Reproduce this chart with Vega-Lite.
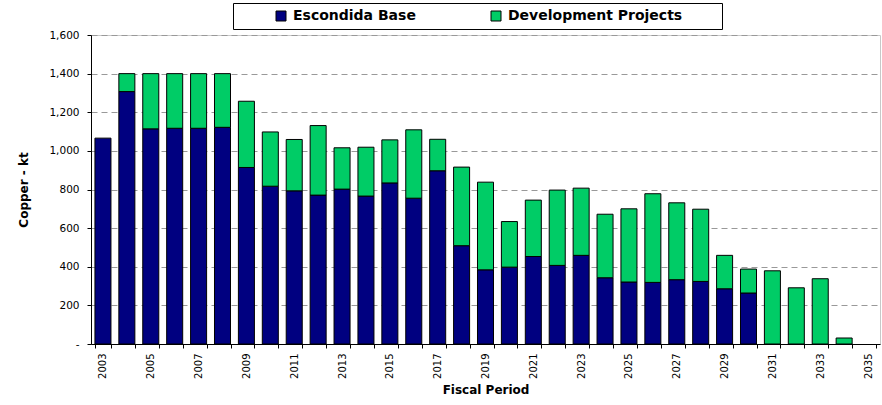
{
  "$schema": "https://vega.github.io/schema/vega-lite/v6.json",
  "width": 789,
  "height": 309,
  "autosize": {"type": "none"},
  "padding": {"left": 91, "top": 35, "right": 2, "bottom": 61},
  "background": "white",
  "config": {"view": {"stroke": "#c8c8c8"}, "font": "DejaVu Sans"},
  "data": {"values": [
    {"year": 2003, "series": "Escondida Base", "kt": 1066},
    {"year": 2004, "series": "Escondida Base", "kt": 1307},
    {"year": 2004, "series": "Development Projects", "kt": 93},
    {"year": 2005, "series": "Escondida Base", "kt": 1114},
    {"year": 2005, "series": "Development Projects", "kt": 286},
    {"year": 2006, "series": "Escondida Base", "kt": 1117},
    {"year": 2006, "series": "Development Projects", "kt": 283},
    {"year": 2007, "series": "Escondida Base", "kt": 1117},
    {"year": 2007, "series": "Development Projects", "kt": 283},
    {"year": 2008, "series": "Escondida Base", "kt": 1122},
    {"year": 2008, "series": "Development Projects", "kt": 278},
    {"year": 2009, "series": "Escondida Base", "kt": 914},
    {"year": 2009, "series": "Development Projects", "kt": 343},
    {"year": 2010, "series": "Escondida Base", "kt": 817},
    {"year": 2010, "series": "Development Projects", "kt": 281},
    {"year": 2011, "series": "Escondida Base", "kt": 793},
    {"year": 2011, "series": "Development Projects", "kt": 266},
    {"year": 2012, "series": "Escondida Base", "kt": 771},
    {"year": 2012, "series": "Development Projects", "kt": 360},
    {"year": 2013, "series": "Escondida Base", "kt": 802},
    {"year": 2013, "series": "Development Projects", "kt": 214},
    {"year": 2014, "series": "Escondida Base", "kt": 766},
    {"year": 2014, "series": "Development Projects", "kt": 253},
    {"year": 2015, "series": "Escondida Base", "kt": 834},
    {"year": 2015, "series": "Development Projects", "kt": 223},
    {"year": 2016, "series": "Escondida Base", "kt": 755},
    {"year": 2016, "series": "Development Projects", "kt": 354},
    {"year": 2017, "series": "Escondida Base", "kt": 897},
    {"year": 2017, "series": "Development Projects", "kt": 163},
    {"year": 2018, "series": "Escondida Base", "kt": 509},
    {"year": 2018, "series": "Development Projects", "kt": 407},
    {"year": 2019, "series": "Escondida Base", "kt": 384},
    {"year": 2019, "series": "Development Projects", "kt": 454},
    {"year": 2020, "series": "Escondida Base", "kt": 398},
    {"year": 2020, "series": "Development Projects", "kt": 236},
    {"year": 2021, "series": "Escondida Base", "kt": 453},
    {"year": 2021, "series": "Development Projects", "kt": 292},
    {"year": 2022, "series": "Escondida Base", "kt": 407},
    {"year": 2022, "series": "Development Projects", "kt": 390},
    {"year": 2023, "series": "Escondida Base", "kt": 459},
    {"year": 2023, "series": "Development Projects", "kt": 348},
    {"year": 2024, "series": "Escondida Base", "kt": 343},
    {"year": 2024, "series": "Development Projects", "kt": 329},
    {"year": 2025, "series": "Escondida Base", "kt": 321},
    {"year": 2025, "series": "Development Projects", "kt": 379},
    {"year": 2026, "series": "Escondida Base", "kt": 319},
    {"year": 2026, "series": "Development Projects", "kt": 459},
    {"year": 2027, "series": "Escondida Base", "kt": 333},
    {"year": 2027, "series": "Development Projects", "kt": 398},
    {"year": 2028, "series": "Escondida Base", "kt": 324},
    {"year": 2028, "series": "Development Projects", "kt": 374},
    {"year": 2029, "series": "Escondida Base", "kt": 286},
    {"year": 2029, "series": "Development Projects", "kt": 173},
    {"year": 2030, "series": "Escondida Base", "kt": 264},
    {"year": 2030, "series": "Development Projects", "kt": 124},
    {"year": 2031, "series": "Development Projects", "kt": 379},
    {"year": 2032, "series": "Development Projects", "kt": 291},
    {"year": 2033, "series": "Development Projects", "kt": 338},
    {"year": 2034, "series": "Development Projects", "kt": 31}
  ]},
  "mark": {"type": "bar", "stroke": "black", "strokeWidth": 1},
  "encoding": {
    "x": {
      "field": "year",
      "type": "ordinal",
      "scale": {
        "domain": [2003,2004,2005,2006,2007,2008,2009,2010,2011,2012,2013,2014,2015,2016,2017,2018,2019,2020,2021,2022,2023,2024,2025,2026,2027,2028,2029,2030,2031,2032,2033,2034,2035],
        "paddingInner": 0.33,
        "paddingOuter": 0.165
      },
      "axis": {
        "title": "Fiscal Period",
        "titleFont": "DejaVu Sans",
        "titleFontWeight": "bold",
        "titleFontSize": 12,
        "titleColor": "black",
        "titlePadding": 6,
        "labelAngle": -90,
        "labelFontSize": 10,
        "labelColor": "black",
        "labelPadding": 5,
        "labelOverlap": false,
        "labelExpr": "datum.value % 2 == 1 ? datum.label : ''",
        "tickBand": "extent",
        "tickSize": 4,
        "tickColor": "black",
        "domainColor": "black",
        "grid": false
      }
    },
    "y": {
      "field": "kt",
      "type": "quantitative",
      "stack": "zero",
      "scale": {"domain": [0, 1600], "nice": false},
      "axis": {
        "title": "Copper - kt",
        "titleFont": "DejaVu Sans",
        "titleFontWeight": "bold",
        "titleFontSize": 12,
        "titleColor": "black",
        "titlePadding": 18,
        "values": [0, 200, 400, 600, 800, 1000, 1200, 1400, 1600],
        "format": ",d",
        "labelExpr": "datum.value == 0 ? '-\u00a0\u00a0\u00a0\u00a0' : datum.label",
        "labelFontSize": 10.5,
        "labelColor": "black",
        "labelPadding": 8,
        "tickSize": 4,
        "tickColor": "black",
        "domainColor": "black",
        "grid": true,
        "gridColor": "#999999",
        "gridDash": [6, 4],
        "gridWidth": 1
      }
    },
    "color": {
      "field": "series",
      "type": "nominal",
      "scale": {"domain": ["Escondida Base", "Development Projects"], "range": ["#000080", "#00CC66"]},
      "legend": {
        "orient": "none",
        "legendX": 142,
        "legendY": -32,
        "direction": "horizontal",
        "title": null,
        "strokeColor": "black",
        "fillColor": "white",
        "padding": 6,
        "symbolType": "square",
        "symbolSize": 100,
        "symbolStrokeColor": "black",
        "symbolStrokeWidth": 1,
        "symbolOffset": 35,
        "labelFont": "DejaVu Sans",
        "labelFontWeight": "bold",
        "labelFontSize": 14,
        "labelColor": "black",
        "labelOffset": 5,
        "labelLimit": 500,
        "columnPadding": 38,
        "labelExpr": "datum.label == 'Development Projects' ? datum.label + '\u2800\u2800\u2800' : datum.label"
      }
    },
    "order": {"field": "series", "sort": "descending"}
  }
}
